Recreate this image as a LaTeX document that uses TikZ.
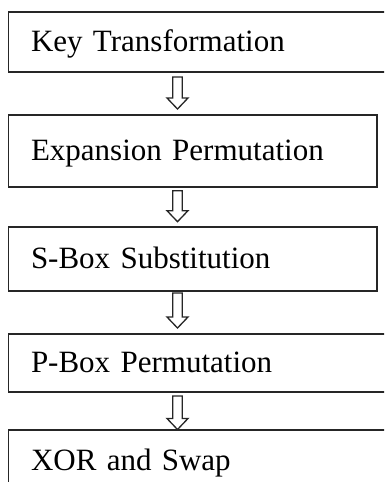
\documentclass[tikz,border=0pt]{standalone}
\usepackage{fontspec}
\setmainfont{Liberation Serif}
\usetikzlibrary{calc}

\tikzset{
  stage/.style={draw=black!85, line width=1.5pt, anchor=north west, outer sep=0pt,
    inner xsep=22.7pt, inner ysep=0pt, align=left, text height=21pt, text depth=2pt,
    font=\fontsize{31}{36}\selectfont},
  flowarrow/.style={draw=black!85, line width=1.3pt, fill=white, line join=miter,
    to path={let \p1=(\tikztostart), \p2=(\tikztotarget) in
      (\x1-4.75pt,\y1) -- (\x1+4.75pt,\y1) -- (\x1+4.75pt,\y2+11pt) -- (\x1+10.5pt,\y2+11pt)
      -- (\x1,\y2) -- (\x1-10.5pt,\y2+11pt) -- (\x1-4.75pt,\y2+11pt) -- cycle}}
}

\begin{document}
\begin{tikzpicture}[x=1pt,y=-1pt]
\useasboundingbox (0,0) rectangle (384,482);
\clip (0,0) rectangle (384,482);
% Stages of one round
\node[stage, minimum width=391.7pt, text width=346.3pt, minimum height=60pt] (kt) at (8.3,12) {Key Transformation};
\node[stage, minimum width=368.7pt, text width=323.3pt, minimum height=72pt] (ep) at (8.3,115) {Expansion Permutation};
\node[stage, minimum width=368.7pt, text width=323.3pt, minimum height=64pt] (sb) at (8.3,227) {S-Box Substitution};
\node[stage, minimum width=391.7pt, text width=346.3pt, minimum height=58pt] (pb) at (8.3,334) {P-Box Permutation};
\node[stage, minimum width=391.7pt, text width=346.3pt, minimum height=61pt] (xs) at (8.3,430) {XOR and Swap};
% Hollow arrows between stages
\coordinate (ax) at (177.5,0);
\draw[flowarrow] ($(kt.south -| ax)+(0,5)$) to ($(ep.north -| ax)+(0,-6)$);
\draw[flowarrow] ($(ep.south -| ax)+(0,3.7)$) to ($(sb.north -| ax)+(0,-5.3)$);
\draw[flowarrow] ($(sb.south -| ax)+(0,2)$) to ($(pb.north -| ax)+(0,-6)$);
\draw[flowarrow] ($(pb.south -| ax)+(0,4)$) to ($(xs.north -| ax)+(0,-0.5)$);
\end{tikzpicture}
\end{document}
